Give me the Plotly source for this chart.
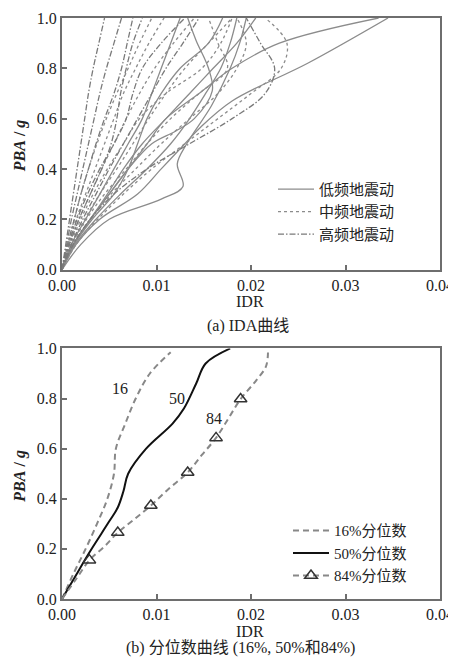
import plotly.graph_objects as go

# ---------------- (a) IDA curves: PBA levels and IDR values ----------------
pba_std = [0, 0.1, 0.2, 0.3, 0.4, 0.5, 0.6, 0.7, 0.8, 0.9, 1.0]

# low-frequency ground motions (solid)
low_idr = [
    [0, 0.0015, 0.004, 0.008, 0.0105, 0.013, 0.0145, 0.018, 0.026, 0.0345],
    [0, 0.0012, 0.003, 0.005, 0.007, 0.009, 0.011, 0.0145, 0.018, 0.023, 0.0335],
    [0, 0.002, 0.005, 0.0105, 0.0128, 0.0122, 0.0132, 0.0158, 0.0178, 0.0188, 0.0195],
    [0, 0.0012, 0.003, 0.005, 0.007, 0.0095, 0.012, 0.014, 0.0159, 0.0155, 0.0142, 0.0133],
    [0, 0.001, 0.0025, 0.004, 0.0055, 0.007, 0.0085, 0.0095, 0.0105, 0.0115, 0.0125],
    [0, 0.0012, 0.003, 0.0048, 0.0065, 0.0085, 0.011, 0.0135, 0.016, 0.0185, 0.0205],
    [0, 0.0013, 0.0032, 0.0055, 0.007, 0.008, 0.009, 0.0105, 0.0125, 0.0155, 0.017],
    [0, 0.0014, 0.0036, 0.0062, 0.009, 0.0115, 0.0135, 0.0152, 0.0168, 0.0178, 0.0185],
]
low_pba = [
    [0, 0.1, 0.2, 0.3, 0.4, 0.5, 0.56, 0.67, 0.82, 1.0],
    pba_std,
    [0, 0.1, 0.2, 0.28, 0.33, 0.42, 0.5, 0.65, 0.8, 0.9, 1.0],
    [0, 0.1, 0.2, 0.3, 0.4, 0.5, 0.55, 0.6, 0.71, 0.8, 0.91, 1.0],
    pba_std, pba_std, pba_std, pba_std,
]

# mid-frequency ground motions (dotted)
mid_idr = [
    [0, 0.0008, 0.0018, 0.003, 0.0042, 0.0055, 0.0068, 0.0082, 0.0098, 0.0118, 0.014],
    [0, 0.001, 0.0024, 0.004, 0.0058, 0.0075, 0.0092, 0.011, 0.013, 0.0155, 0.018],
    [0, 0.0007, 0.0015, 0.0025, 0.0035, 0.0045, 0.0055, 0.0065, 0.0078, 0.0092, 0.0108],
    [0, 0.0015, 0.0038, 0.0065, 0.0095, 0.013, 0.0165, 0.02, 0.0232, 0.0238, 0.0215],
    [0, 0.0012, 0.003, 0.0052, 0.0078, 0.0105, 0.0135, 0.0165, 0.0185, 0.0195, 0.0185],
    [0, 0.0006, 0.0013, 0.002, 0.0028, 0.0037, 0.0047, 0.0058, 0.007, 0.0082, 0.0095],
    [0, 0.0009, 0.002, 0.0033, 0.0048, 0.0065, 0.0082, 0.011, 0.0148, 0.0168, 0.018],
    [0, 0.0011, 0.0026, 0.0045, 0.0068, 0.009, 0.0115, 0.0145, 0.0175, 0.0165, 0.0155],
]

# high-frequency ground motions (dash-dot)
high_idr = [
    [0, 0.0004, 0.0008, 0.0012, 0.0016, 0.002, 0.0024, 0.0028, 0.0033, 0.0039, 0.0045],
    [0, 0.0005, 0.001, 0.0016, 0.0022, 0.0028, 0.0034, 0.004, 0.0047, 0.0055, 0.0063],
    [0, 0.0006, 0.0013, 0.002, 0.0028, 0.0036, 0.0045, 0.0055, 0.0063, 0.0069, 0.0075],
    [0, 0.0008, 0.0018, 0.003, 0.0042, 0.0052, 0.0058, 0.0062, 0.0068, 0.0075, 0.0085],
    [0, 0.001, 0.0022, 0.0036, 0.005, 0.0065, 0.008, 0.0095, 0.011, 0.0128, 0.0145],
    [0, 0.0012, 0.003, 0.0055, 0.009, 0.0135, 0.018, 0.0215, 0.0225, 0.021, 0.0195],
    [0, 0.0007, 0.0016, 0.0027, 0.004, 0.0055, 0.0068, 0.0075, 0.0085, 0.0105, 0.013],
]

# ---------------- (b) fractile curves ----------------
q16_idr = [0, 0.0012, 0.0025, 0.0037, 0.0048, 0.0055, 0.0057, 0.0067, 0.0078, 0.0093, 0.0115]
q16_pba = [0, 0.1, 0.2, 0.3, 0.4, 0.5, 0.6, 0.7, 0.8, 0.9, 0.985]

q50_idr = [0, 0.0014, 0.0028, 0.005, 0.0059, 0.0065, 0.007, 0.0089, 0.0117, 0.0129, 0.0142, 0.0152, 0.0178]
q50_pba = [0, 0.09, 0.18, 0.31, 0.365, 0.43, 0.5, 0.6, 0.7, 0.76, 0.86, 0.94, 1.0]

q84_idr = [0, 0.0015, 0.0029, 0.0045, 0.0059, 0.0077, 0.0094, 0.0113, 0.0133, 0.0148,
           0.0163, 0.0176, 0.0189, 0.0205, 0.0216, 0.0218]
q84_pba = [0, 0.08, 0.155, 0.21, 0.265, 0.32, 0.373, 0.44, 0.505, 0.575,
           0.643, 0.72, 0.798, 0.87, 0.93, 1.0]
q84_mark_idr = [0.0029, 0.0059, 0.0094, 0.0133, 0.0163, 0.0189]
q84_mark_pba = [0.155, 0.265, 0.373, 0.505, 0.643, 0.798]

labels = [("16", 0.0061, 0.84), ("50", 0.0122, 0.80), ("84", 0.0161, 0.72)]

x_ticks = [0, 0.01, 0.02, 0.03, 0.04]
x_ticktext = ["0.00", "0.01", "0.02", "0.03", "0.04"]
y_ticks = [0, 0.2, 0.4, 0.6, 0.8, 1.0]
y_ticktext = ["0.0", "0.2", "0.4", "0.6", "0.8", "1.0"]

FONT = "Liberation Serif, Noto Sans CJK SC"
GREY = "#8c8c8c"
AX = "#6e6e6e"

fig = go.Figure()

for i, (xs, ys) in enumerate(zip(low_idr, low_pba)):
    fig.add_trace(go.Scatter(x=xs, y=ys, mode="lines", line=dict(color=GREY, width=1.3, shape="spline"),
                             name="低频地震动", legendgroup="low", showlegend=(i == 0),
                             xaxis="x", yaxis="y", legend="legend"))
for i, xs in enumerate(mid_idr):
    fig.add_trace(go.Scatter(x=xs, y=pba_std, mode="lines", line=dict(color=GREY, width=1.3, dash="dot", shape="spline"),
                             name="中频地震动", legendgroup="mid", showlegend=(i == 0),
                             xaxis="x", yaxis="y", legend="legend"))
for i, xs in enumerate(high_idr):
    fig.add_trace(go.Scatter(x=xs, y=pba_std, mode="lines",
                             line=dict(color="#7a7a7a", width=1.3, dash="6px,2px,1.5px,2px", shape="spline"),
                             name="高频地震动", legendgroup="high", showlegend=(i == 0),
                             xaxis="x", yaxis="y", legend="legend"))

fig.add_trace(go.Scatter(x=q16_idr, y=q16_pba, mode="lines",
                         line=dict(color="#888888", width=2, dash="6px,4px", shape="spline"),
                         name="16%分位数", xaxis="x2", yaxis="y2", legend="legend2"))
fig.add_trace(go.Scatter(x=q50_idr, y=q50_pba, mode="lines",
                         line=dict(color="#111111", width=2, shape="spline"),
                         name="50%分位数", xaxis="x2", yaxis="y2", legend="legend2"))
fig.add_trace(go.Scatter(x=q84_idr, y=q84_pba, mode="lines",
                         line=dict(color="#888888", width=2, dash="6px,4px", shape="spline"),
                         name="84%分位数", legendgroup="q84", showlegend=False,
                         xaxis="x2", yaxis="y2", legend="legend2"))
fig.add_trace(go.Scatter(x=q84_mark_idr, y=q84_mark_pba, mode="markers",
                         marker=dict(symbol="triangle-up-open", size=11, color="#333333", line=dict(width=1.5)),
                         name="84%分位数", legendgroup="q84", showlegend=False,
                         xaxis="x2", yaxis="y2", legend="legend2"))
fig.add_trace(go.Scatter(x=[None], y=[None], mode="lines+markers",
                         line=dict(color="#888888", width=2, dash="6px,4px"),
                         marker=dict(symbol="triangle-up-open", size=11, color="#333333", line=dict(width=1.5)),
                         name="84%分位数", legendgroup="q84", showlegend=True,
                         xaxis="x2", yaxis="y2", legend="legend2"))

axis_common = dict(range=[0, 0.04], tickvals=x_ticks, ticktext=x_ticktext, ticks="inside", ticklen=5,
                   tickcolor=AX, tickwidth=1.5, showline=True, linecolor=AX, linewidth=2, mirror=True,
                   showgrid=False, zeroline=False, ticklabeloverflow="allow",
                   tickfont=dict(family=FONT, size=16, color="#222"))
yaxis_common = dict(range=[0, 1.0], tickvals=y_ticks, ticktext=y_ticktext, ticks="inside", ticklen=5,
                    tickcolor=AX, tickwidth=1.5, showline=True, linecolor=AX, linewidth=2, mirror=True,
                    showgrid=False, zeroline=False, ticklabeloverflow="allow",
                    tickfont=dict(family=FONT, size=16, color="#222"))

PH = 589  # plotting height in px (figure 655 - t 2 - b 64)

def py(p):
    return (599 - p) / PH

def px(p):
    return (p - 62) / 378

top_dom = [py(265), 1.0]
bot_dom = [0.0, py(345)]

# page body has an 8px margin: figure pixel = screen pixel - 8
fig.update_layout(
    width=456, height=655,
    margin=dict(l=54, r=24, t=2, b=64),
    paper_bgcolor="white", plot_bgcolor="white",
    font=dict(family=FONT, size=16, color="#222"),
    xaxis=dict(domain=[0, 1], anchor="y", **axis_common),
    yaxis=dict(domain=top_dom, anchor="x", **yaxis_common),
    xaxis2=dict(domain=[0, 1], anchor="y2", **axis_common),
    yaxis2=dict(domain=bot_dom, anchor="x2", **yaxis_common),
    legend=dict(x=px(273), y=py(167), xanchor="left", yanchor="top", bgcolor="rgba(0,0,0,0)",
                font=dict(family=FONT, size=15, color="#222"), tracegroupgap=0, itemwidth=36),
    legend2=dict(x=px(288), y=py(513), xanchor="left", yanchor="top", bgcolor="rgba(0,0,0,0)",
                 font=dict(family=FONT, size=15, color="#222"), tracegroupgap=0, itemwidth=36),
    showlegend=True,
)

ann = [
    dict(text="IDR", x=px(250), y=py(297)),
    dict(text="(a) IDA曲线", x=px(248), y=py(322)),
    dict(text="IDR", x=px(250), y=py(632)),
    dict(text="(b) 分位数曲线 (16%, 50%和84%)", x=px(240), y=py(649)),
    dict(text="<b><i>PBA</i> / <i>g</i></b>", x=px(20), y=py(140), textangle=-90, font=dict(size=16)),
    dict(text="<b><i>PBA</i> / <i>g</i></b>", x=px(20), y=py(475), textangle=-90, font=dict(size=16)),
]
for a in ann:
    a.update(xref="paper", yref="paper", showarrow=False, xanchor="center", yanchor="middle")
    a.setdefault("font", dict(size=16))
for t, xv, yv in labels:
    ann.append(dict(text=t, x=xv, y=yv, xref="x2", yref="y2", showarrow=False,
                    xanchor="center", yanchor="middle", font=dict(size=16)))
fig.update_layout(annotations=ann)

fig.write_html("out.html")
